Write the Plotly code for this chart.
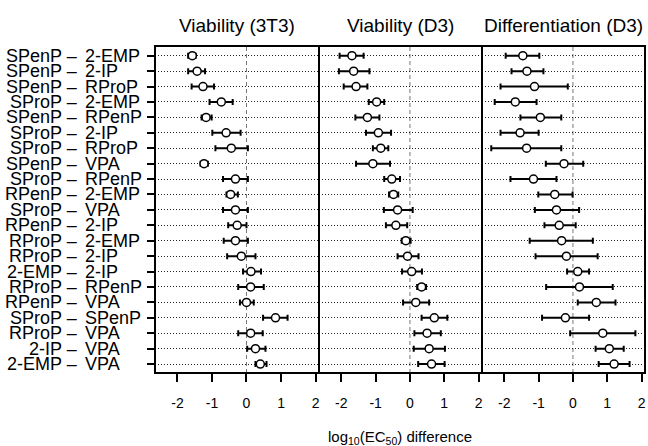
import plotly.graph_objects as go

labels = ["SPenP – 2-EMP", "SPenP – 2-IP", "SPenP – RProP", "SProP – 2-EMP", "SPenP – RPenP",
          "SProP – 2-IP", "SProP – RProP", "SPenP – VPA", "SProP – RPenP", "RPenP – 2-EMP",
          "SProP – VPA", "RPenP – 2-IP", "RProP – 2-EMP", "RProP – 2-IP", "2-EMP – 2-IP",
          "RProP – RPenP", "RPenP – VPA", "SProP – SPenP", "RProP – VPA", "2-IP – VPA", "2-EMP – VPA"]

panel_titles = ["Viability (3T3)", "Viability (D3)", "Differentiation (D3)"]
x_ticks = [-2, -1, 0, 1, 2]
x_ticktext = ["-2", "-1", "0", "1", "2"]

v3t3_est = [-1.57, -1.43, -1.26, -0.73, -1.17, -0.59, -0.44, -1.23, -0.32, -0.46,
            -0.32, -0.27, -0.32, -0.15, 0.13, 0.12, 0.00, 0.84, 0.12, 0.26, 0.40]
v3t3_lo = [-1.69, -1.69, -1.59, -1.07, -1.30, -0.99, -0.90, -1.33, -0.68, -0.58,
           -0.68, -0.53, -0.66, -0.56, -0.10, -0.24, -0.19, 0.48, -0.24, 0.02, 0.26]
v3t3_hi = [-1.47, -1.20, -0.94, -0.40, -1.01, -0.17, 0.04, -1.12, 0.04, -0.25,
           0.04, 0.00, 0.04, 0.26, 0.42, 0.50, 0.21, 1.19, 0.47, 0.55, 0.58]

vd3_est = [-1.69, -1.64, -1.57, -0.97, -1.24, -0.92, -0.85, -1.08, -0.53, -0.48,
           -0.36, -0.41, -0.12, -0.07, 0.05, 0.34, 0.17, 0.71, 0.50, 0.56, 0.63]
vd3_lo = [-2.05, -2.07, -1.93, -1.20, -1.59, -1.28, -1.08, -1.57, -0.75, -0.61,
          -0.76, -0.70, -0.24, -0.36, -0.23, 0.21, -0.20, 0.34, 0.13, 0.11, 0.24]
vd3_hi = [-1.35, -1.18, -1.24, -0.75, -0.89, -0.55, -0.63, -0.58, -0.29, -0.34,
          0.08, -0.08, 0.02, 0.25, 0.35, 0.47, 0.56, 1.09, 0.90, 1.02, 1.01]

dd3_est = [-1.46, -1.34, -1.12, -1.68, -0.95, -1.54, -1.35, -0.26, -1.15, -0.53,
           -0.48, -0.40, -0.33, -0.19, 0.14, 0.19, 0.68, -0.22, 0.87, 1.06, 1.20]
dd3_lo = [-1.96, -1.79, -2.11, -2.28, -1.53, -2.11, -2.38, -0.79, -1.82, -1.01,
          -1.11, -0.83, -1.26, -1.09, -0.17, -0.78, 0.14, -0.90, -0.08, 0.66, 0.75]
dd3_hi = [-0.98, -0.86, -0.15, -1.06, -0.34, -1.00, -0.34, 0.30, -0.48, -0.01,
          0.18, 0.08, 0.58, 0.72, 0.47, 1.16, 1.24, 0.47, 1.82, 1.48, 1.65]

panels = [(v3t3_est, v3t3_lo, v3t3_hi), (vd3_est, vd3_lo, vd3_hi), (dd3_est, dd3_lo, dd3_hi)]

FONT = "Liberation Sans, Arial, Helvetica, sans-serif"
rows = list(range(1, len(labels) + 1))
W = 490.0
domains = [[0, 164 / W], [164 / W, 327 / W], [327 / W, 1]]
xnames = ["x", "x2", "x3"]

fig = go.Figure()
for k, (est, lo, hi) in enumerate(panels):
    fig.add_trace(go.Scatter(
        x=est, y=rows, xaxis=xnames[k], yaxis="y", mode="markers",
        marker=dict(symbol="circle", size=8, color="white", line=dict(color="black", width=1.5)),
        error_x=dict(type="data", symmetric=False,
                     array=[h - e for h, e in zip(hi, est)],
                     arrayminus=[e - l for e, l in zip(est, lo)],
                     color="black", thickness=2, width=3),
        showlegend=False, hoverinfo="skip"))

layout = dict(
    width=648, height=446,
    margin=dict(l=155, r=3, t=46, b=73),
    paper_bgcolor="white", plot_bgcolor="white",
    font=dict(family=FONT, color="black"),
    yaxis=dict(domain=[0, 1], range=[21.58, 0.37], tickvals=rows, showticklabels=False,
               ticks="outside", ticklen=7, tickwidth=1.5, tickcolor="black",
               showgrid=True, gridcolor="#222", gridwidth=1, griddash="1px,2px",
               zeroline=False, showline=False, anchor="x"),
)
for k in range(3):
    key = "xaxis" if k == 0 else f"xaxis{k + 1}"
    layout[key] = dict(domain=domains[k], range=[-2.65, 2.1], tickvals=x_ticks, ticktext=x_ticktext,
                       ticks="outside", ticklen=8, tickwidth=1.5, tickcolor="black",
                       ticklabelstandoff=9,
                       tickfont=dict(size=14, family=FONT, color="black"),
                       showgrid=False, zeroline=False, showline=False, anchor="y")
fig.update_layout(**layout)

shapes = []
annotations = []
for k in range(3):
    shapes.append(dict(type="line", xref=xnames[k], yref="paper", x0=0, x1=0, y0=0, y1=1,
                       line=dict(color="#777", width=1, dash="4px,3px"), layer="between"))
    shapes.append(dict(type="rect", xref="paper", yref="paper", x0=domains[k][0], x1=domains[k][1],
                       y0=0, y1=1, line=dict(color="black", width=2), layer="above"))
    annotations.append(dict(text=panel_titles[k], xref="paper", yref="paper",
                            x=(domains[k][0] + domains[k][1]) / 2, y=1.064,
                            xanchor="center", yanchor="middle", showarrow=False,
                            font=dict(size=19, family=FONT, color="black")))

for r, lab in zip(rows, labels):
    first, second = lab.split(" – ")
    annotations.append(dict(text=first + " –", xref="paper", yref="y", x=0, y=r,
                            xanchor="right", yanchor="middle", xshift=-76, showarrow=False,
                            font=dict(size=18, family=FONT, color="black")))
    annotations.append(dict(text=second, xref="paper", yref="y", x=0, y=r,
                            xanchor="left", yanchor="middle", xshift=-72, showarrow=False,
                            font=dict(size=18, family=FONT, color="black")))

annotations.append(dict(text="log<sub>10</sub>(EC<sub>50</sub>) difference", xref="paper", yref="paper",
                        x=0.5, y=-0.196, xanchor="center", yanchor="middle", showarrow=False,
                        font=dict(size=15, family=FONT, color="black")))

fig.update_layout(shapes=shapes, annotations=annotations)
fig.write_html("out.html")
